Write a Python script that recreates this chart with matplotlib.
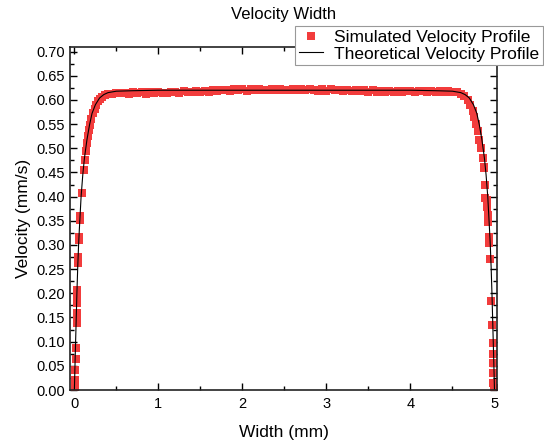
import numpy as np
import matplotlib.pyplot as plt
from matplotlib.ticker import MultipleLocator

plt.rcParams['font.family'] = ['Liberation Sans', 'DejaVu Sans']

# Simulated profile (left wall, plateau, right wall)
left_x = [0.005, 0.01, 0.01, 0.015, 0.02, 0.03, 0.03, 0.03, 0.035, 0.035, 0.035,
          0.045, 0.045, 0.055, 0.055, 0.07, 0.07, 0.087, 0.11, 0.13,
          0.14, 0.15, 0.16, 0.17, 0.18, 0.20, 0.22, 0.24, 0.26, 0.28, 0.30,
          0.33, 0.36, 0.40, 0.45, 0.50, 0.55, 0.60]
left_v = [0.005, 0.021, 0.041, 0.064, 0.086, 0.138, 0.150, 0.160, 0.179, 0.190, 0.207,
          0.262, 0.276, 0.310, 0.317, 0.352, 0.359, 0.407, 0.455, 0.476,
          0.495, 0.510, 0.525, 0.537, 0.548, 0.560, 0.572, 0.582, 0.590, 0.597, 0.602,
          0.607, 0.610, 0.612, 0.613, 0.614, 0.614, 0.614]

mid_x = [0.65, 0.70, 0.75, 0.80, 0.85, 0.90, 0.95, 1.00, 1.05, 1.10, 1.15, 1.20, 1.25,
         1.30, 1.35, 1.40, 1.45, 1.50, 1.55, 1.60, 1.65, 1.70, 1.75, 1.80, 1.85, 1.90,
         1.95, 2.00, 2.05, 2.10, 2.15, 2.20, 2.25, 2.30, 2.35, 2.40, 2.45, 2.50, 2.55,
         2.60, 2.65, 2.70, 2.75, 2.80, 2.85, 2.90, 2.95, 3.00, 3.05, 3.10, 3.15, 3.20,
         3.25, 3.30, 3.35, 3.40, 3.45, 3.50, 3.55, 3.60, 3.65, 3.70, 3.75, 3.80, 3.85,
         3.90, 3.95, 4.00, 4.05, 4.10, 4.15, 4.20, 4.25, 4.30, 4.35, 4.40, 4.45]
mid_v = [0.613, 0.616, 0.614, 0.616, 0.613, 0.616, 0.614, 0.616, 0.615, 0.614, 0.617,
         0.616, 0.615, 0.618, 0.616, 0.617, 0.619, 0.616, 0.619, 0.617, 0.620, 0.618,
         0.620, 0.621, 0.619, 0.622, 0.620, 0.622, 0.619, 0.622, 0.620, 0.622, 0.620,
         0.621, 0.623, 0.620, 0.623, 0.621, 0.620, 0.623, 0.621, 0.623, 0.620, 0.623,
         0.621, 0.619, 0.622, 0.619, 0.622, 0.620, 0.621, 0.618, 0.621, 0.618, 0.621,
         0.618, 0.620, 0.617, 0.620, 0.617, 0.619, 0.616, 0.619, 0.616, 0.619, 0.616,
         0.618, 0.619, 0.616, 0.618, 0.619, 0.616, 0.618, 0.617, 0.618, 0.616, 0.618]

right_x = [4.50, 4.55, 4.60, 4.64, 4.68, 4.71, 4.74, 4.76, 4.78, 4.80, 4.82, 4.84,
           4.86, 4.875, 4.88, 4.89, 4.89, 4.91, 4.91, 4.925, 4.925, 4.93, 4.93,
           4.945, 4.96, 4.967, 4.985, 4.985, 4.985, 4.985, 4.985, 4.99]
right_v = [0.617, 0.616, 0.613, 0.608, 0.600, 0.590, 0.578, 0.565, 0.550, 0.535, 0.518,
           0.500, 0.480, 0.462, 0.460, 0.424, 0.398, 0.393, 0.379, 0.362, 0.348, 0.317,
           0.304, 0.270, 0.185, 0.135, 0.097, 0.075, 0.055, 0.035, 0.015, 0.004]

# Theoretical profile
theo_x = [0.0, 0.01, 0.02, 0.03, 0.04, 0.05, 0.06, 0.08, 0.10, 0.12, 0.15, 0.18, 0.21,
          0.25, 0.30, 0.35, 0.40, 0.50, 0.70, 1.0, 2.5, 4.0, 4.3, 4.5, 4.6, 4.65, 4.7,
          4.75, 4.79, 4.82, 4.85, 4.88, 4.90, 4.92, 4.94, 4.95, 4.96, 4.97, 4.98, 4.99, 5.0]
theo_v = [0.0, 0.07, 0.135, 0.20, 0.255, 0.30, 0.335, 0.40, 0.445, 0.48, 0.518, 0.548,
          0.572, 0.590, 0.604, 0.611, 0.615, 0.618, 0.619, 0.620, 0.620, 0.620, 0.619,
          0.618, 0.615, 0.611, 0.604, 0.590, 0.572, 0.548, 0.518, 0.48, 0.445, 0.40,
          0.335, 0.30, 0.255, 0.20, 0.135, 0.07, 0.0]

sim_x = left_x + mid_x + right_x
sim_v = left_v + mid_v + right_v

fig = plt.figure(figsize=(5.44, 4.44), dpi=100)
ax = fig.add_axes([0.129, 0.1216, 0.7846, 0.7732])

ax.plot(sim_x, sim_v, 's', color='#f23c3c', markersize=6.2, markeredgewidth=0,
        label='Simulated Velocity Profile')
ax.plot(theo_x, theo_v, '-', color='black', linewidth=0.8,
        label='Theoretical Velocity Profile')

ax.set_xlim(-0.05, 5.03)
ax.set_ylim(0, 0.71)
ax.xaxis.set_major_locator(MultipleLocator(1))
ax.xaxis.set_minor_locator(MultipleLocator(0.5))
ax.yaxis.set_major_locator(MultipleLocator(0.05))
ax.yaxis.set_minor_locator(MultipleLocator(0.025))
ax.yaxis.set_major_formatter(plt.FormatStrFormatter('%.2f'))
ax.tick_params(which='both', direction='in', top=True, right=True, labelsize=10.5, width=1)
ax.tick_params(which='major', length=5)
ax.tick_params(which='minor', length=3)
ax.tick_params(axis='x', pad=5)
for s in ax.spines.values():
    s.set_linewidth(1.2)
    s.set_color('#222222')

ax.set_title('Velocity Width', fontsize=12, pad=20)
ax.set_xlabel('Width (mm)', fontsize=12.5, labelpad=10)
ax.set_ylabel('Velocity (mm/s)', fontsize=12.5)

leg = ax.legend(loc='upper right', bbox_to_anchor=(0.998, 1 - 26 / 444),
                bbox_transform=fig.transFigure, fontsize=12.5, fancybox=False,
                edgecolor='#999999', framealpha=1, borderaxespad=0,
                handlelength=1.4, handletextpad=0.65, borderpad=0.2,
                labelspacing=0.1)
leg.get_frame().set_linewidth(0.8)

fig.savefig('out.png', dpi=100)
